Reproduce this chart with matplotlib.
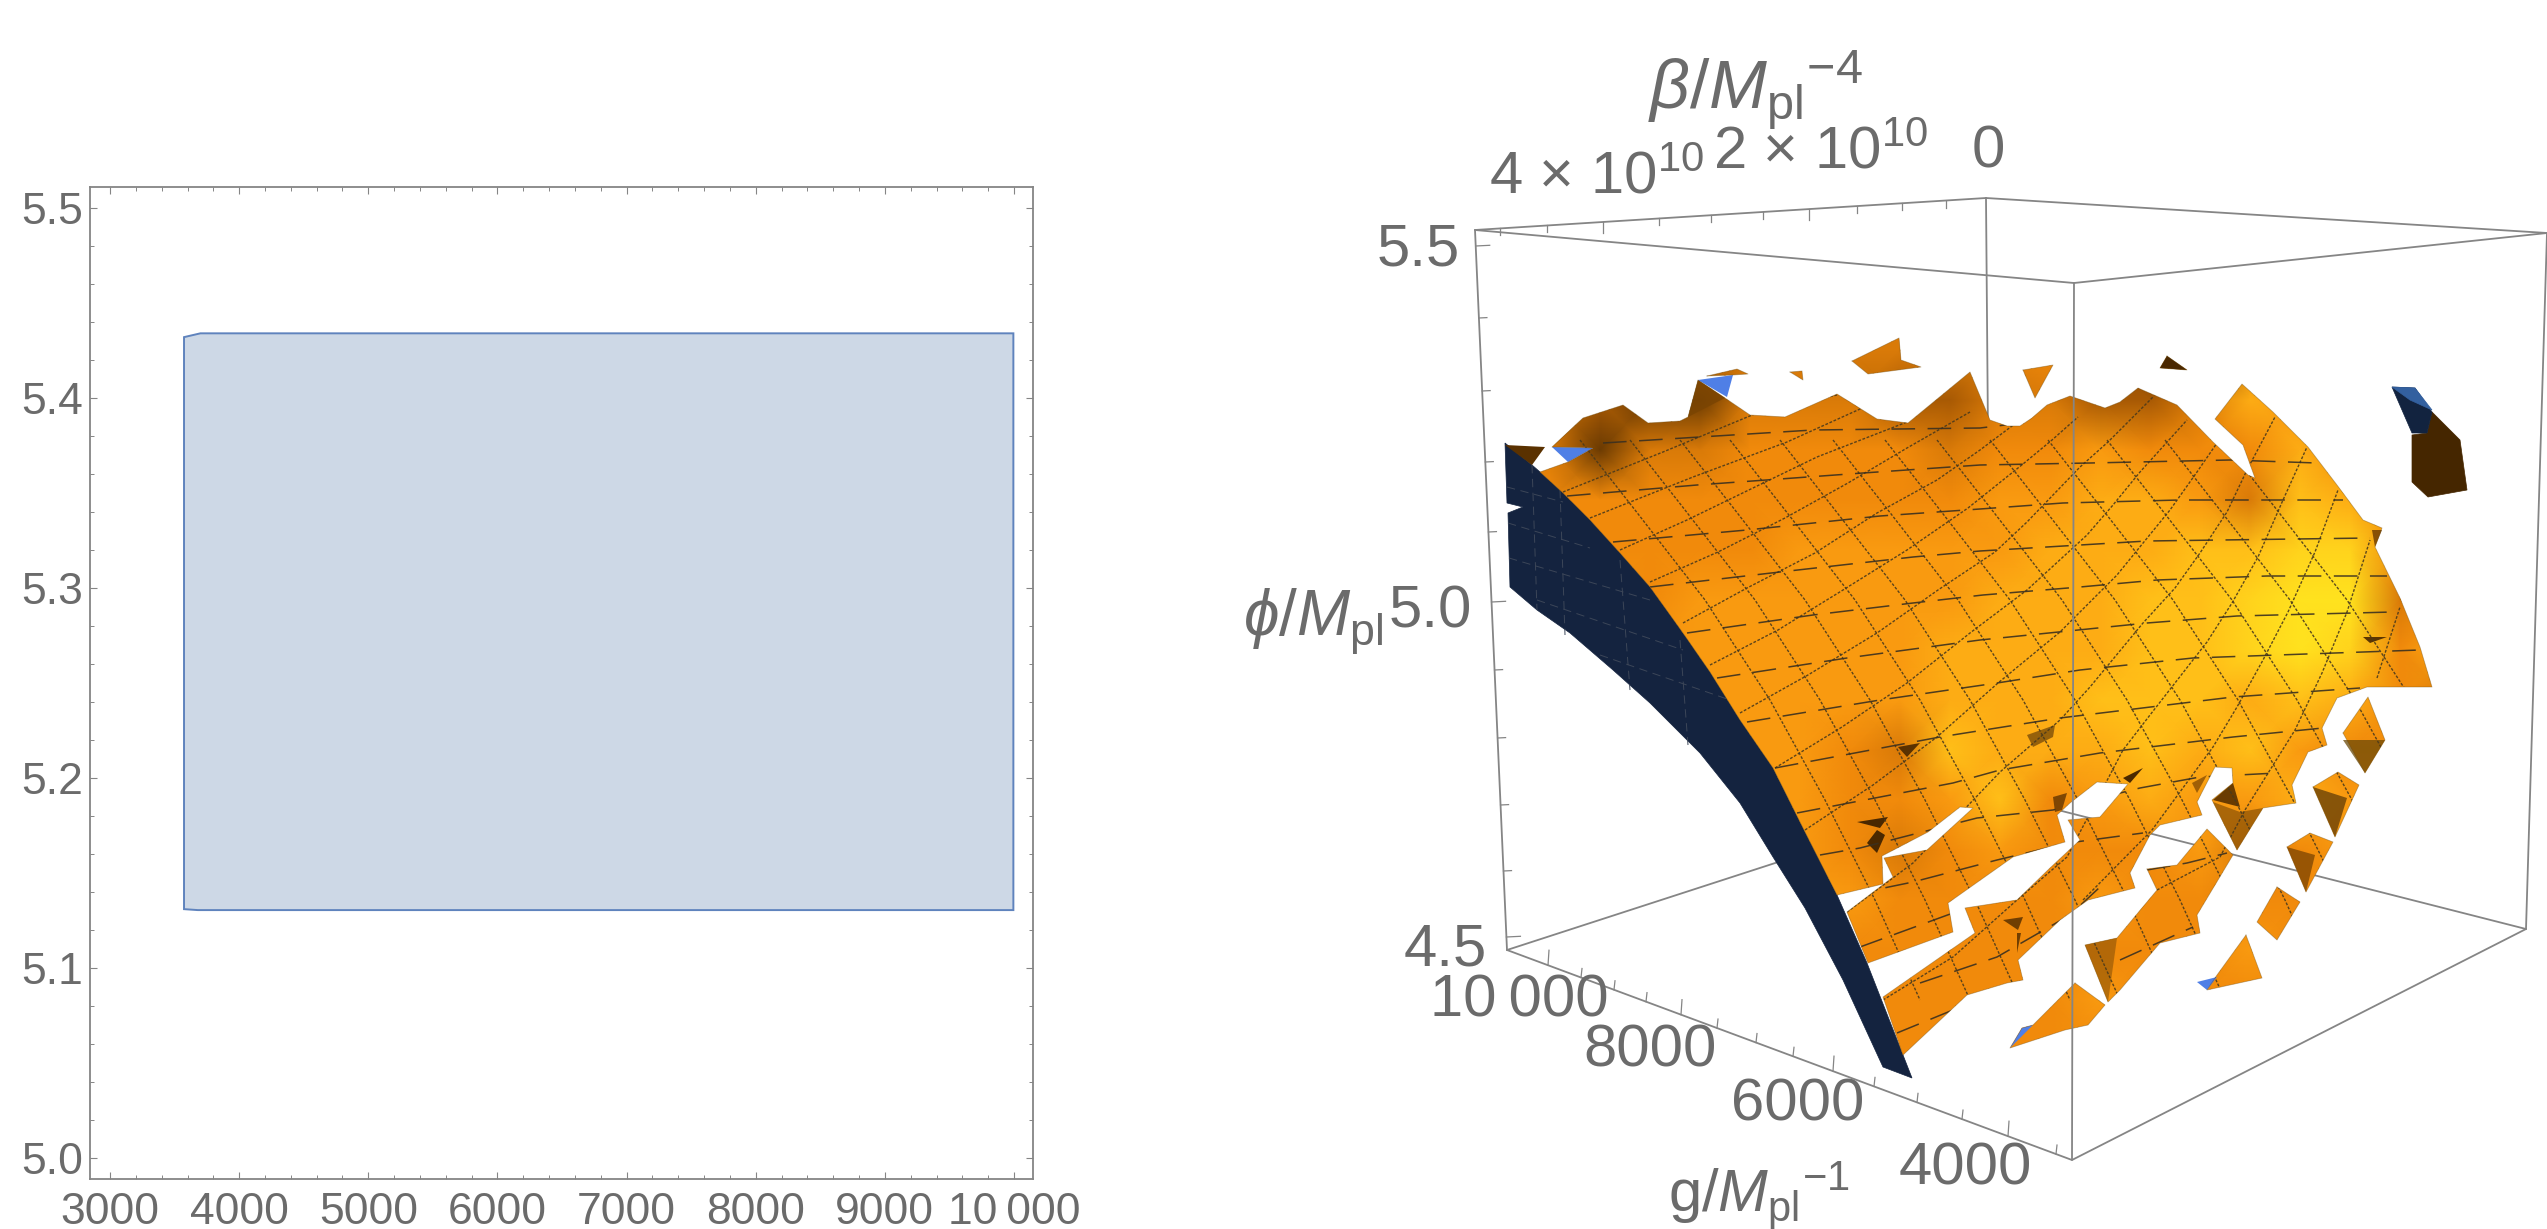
import numpy as np
import matplotlib
matplotlib.use("Agg")
import matplotlib.pyplot as plt
from matplotlib.colors import LinearSegmentedColormap
from matplotlib.path import Path
from matplotlib.ticker import MultipleLocator

plt.rcParams['font.family'] = ['Liberation Sans', 'DejaVu Sans']
plt.rcParams['mathtext.fontset'] = 'custom'
plt.rcParams['mathtext.rm'] = 'Liberation Sans'
plt.rcParams['mathtext.it'] = 'Liberation Sans:italic'
plt.rcParams['mathtext.bf'] = 'Liberation Sans:bold'
plt.rcParams['lines.scale_dashes'] = False

GREY = '#6b6b6b'
FRAME = '#858585'
W, H = 2547, 1229

# left panel: allowed region
region_g = [3573, 3573, 3700, 9995, 9995, 3680]
region_phi = [5.131, 5.432, 5.434, 5.434, 5.1305, 5.1305]
g_ticks = [3000, 4000, 5000, 6000, 7000, 8000, 9000, 10000]
g_tick_labels = ['3000', '4000', '5000', '6000', '7000', '8000', '9000', '10\u2009000']
phi_ticks = [5.0, 5.1, 5.2, 5.3, 5.4, 5.5]

# right panel: box corners as seen in the projected view
top_x = [1475, 1986, 2547, 2074]
top_y = [230, 198, 233, 283]
bot_x = [1507, 1991, 2526, 2072]
bot_y = [950, 793, 929, 1160]

phi_tick_y = [246, 318, 391, 462, 532, 602, 670, 738, 805, 871, 937]
phi_major_y = [246, 602, 937]
g3_tick_x = [1548, 1581, 1614, 1646, 1681, 1717, 1756, 1793, 1833, 1874, 1917, 1962, 2008, 2056]
g3_major_x = [1548, 1681, 1833, 2008]
beta_tick_x = [1500, 1547, 1603, 1659, 1711, 1763, 1809, 1857, 1902, 1946]
beta_major_x = [1603, 1809]

# the sheet, with the slits that break it up towards the bottom
body_x = [1540, 1568, 1593, 1552, 1583, 1623, 1648, 1680, 1688, 1698, 1725, 1750, 1785, 1837, 1877, 1908, 1970,
          1990, 2007, 2020, 2032, 2047, 2070, 2105, 2120, 2138, 2177, 2213, 2248, 2255, 2243, 2215, 2242, 2273,
          2308, 2337, 2363, 2382, 2375, 2400, 2420, 2432, 2367, 2337, 2322, 2327, 2308, 2292, 2296, 2263, 2237,
          2212, 2233, 2232, 2215, 2197, 2202, 2160, 2150, 2130, 2135, 2088, 2060, 2018, 2023, 2007, 1967, 1903,
          1883, 1975, 1965, 2017, 2050, 2080, 2068, 2100, 2128, 2097, 2070, 2057, 2065, 2013, 1948, 1953, 1868,
          1847, 1893, 1884, 1927, 1973, 1960, 1928, 1882, 1883, 1837, 1805, 1773, 1740, 1710, 1683, 1650, 1620,
          1590, 1563]
body_y = [472, 462, 448, 447, 418, 405, 423, 421, 417, 380, 398, 415, 417, 394, 419, 423, 372,
          420, 426, 426, 418, 405, 396, 408, 402, 388, 405, 442, 475, 478, 445, 419, 384, 412,
          447, 485, 520, 528, 547, 598, 647, 687, 687, 698, 728, 745, 752, 785, 803, 808, 850,
          800, 783, 768, 767, 802, 815, 825, 835, 873, 888, 900, 920, 960, 980, 983, 995, 1055,
          997, 933, 908, 900, 868, 840, 820, 817, 784, 782, 803, 815, 842, 857, 903, 932, 963,
          912, 877, 858, 850, 808, 807, 832, 856, 884, 895, 832, 768, 720, 672, 633, 587, 553,
          520, 493]

# detached pieces of the sheet
islands = [
    ([2147, 2177, 2207, 2233, 2197, 2200, 2160, 2120, 2108, 2085, 2117, 2157],
     [869, 865, 829, 855, 915, 933, 943, 990, 1002, 945, 938, 890]),
    ([2075, 2105, 2088, 2065, 2010, 2022, 2033], [983, 1005, 1025, 1030, 1048, 1028, 1025]),
    ([2246, 2262, 2207, 2217], [935, 978, 990, 975]),
    ([2277, 2300, 2277, 2257], [887, 902, 940, 922]),
    ([2287, 2310, 2333, 2306], [847, 833, 842, 892]),
    ([2313, 2338, 2359, 2335], [787, 772, 785, 837]),
    ([2343, 2368, 2385, 2365], [733, 697, 740, 773]),
    ([1707, 1737, 1748, 1733], [376, 369, 374, 375]),
    ([1790, 1802, 1803], [372, 371, 380]),
    ([1852, 1899, 1901, 1921, 1868], [361, 338, 360, 367, 374]),
    ([2023, 2053, 2035], [370, 365, 398]),
    ([2167, 2187, 2160], [356, 370, 368]),
]

# underside strip
navy_x = [1505, 1507, 1523, 1508, 1510, 1537, 1570, 1613, 1650, 1700, 1740, 1773, 1805, 1843, 1883, 1912,
          1903, 1867, 1837, 1805, 1773, 1740, 1710, 1683, 1650, 1620, 1590, 1563, 1540, 1532]
navy_y = [443, 503, 507, 513, 587, 610, 633, 670, 703, 753, 803, 857, 908, 980, 1067, 1078,
          1055, 963, 895, 832, 768, 720, 672, 633, 587, 553, 520, 493, 472, 465]
navy_lines = [([1507, 1563], [487, 502]), ([1508, 1590], [523, 548]), ([1509, 1650], [558, 600]),
              ([1537, 1683], [600, 650]), ([1600, 1730], [655, 700]), ([1532, 1537], [465, 610]),
              ([1560, 1565], [490, 635]), ([1620, 1630], [560, 690]), ([1680, 1688], [640, 745])]

# solid flaps: x, y, colour, alpha
blue_x = [[1552, 1593, 1568], [1698, 1733, 1727], [2010, 2022, 2033], [2197, 2217, 2207]]
blue_y = [[447, 448, 462], [380, 375, 397], [1048, 1028, 1025], [982, 977, 990]]
dark_patches = [
    ([1505, 1545, 1532], [445, 447, 465], '#5a3100', 1.0),
    ([1698, 1725, 1688], [380, 398, 417], '#7a4402', 0.85),
    ([1857, 1888, 1880], [822, 817, 828], '#4a2800', 1.0),
    ([1877, 1885, 1877, 1867], [830, 835, 853, 843], '#4a2800', 1.0),
    ([1898, 1920, 1907], [747, 743, 757], '#4a2800', 0.9),
    ([2003, 2023, 2018], [920, 917, 930], '#5a3100', 0.85),
    ([2017, 2021, 2017], [933, 933, 953], '#5a3100', 0.85),
    ([2123, 2143, 2130], [778, 768, 783], '#4a2800', 1.0),
    ([2213, 2233, 2240], [800, 783, 807], '#5a3100', 0.9),
    ([2213, 2237, 2263, 2240], [802, 850, 808, 812], '#8a5206', 0.7),
    ([2027, 2055, 2053, 2033], [735, 725, 737, 747], '#6b4208', 0.7),
    ([2053, 2067, 2062, 2055], [797, 793, 810, 812], '#6b3a02', 0.85),
    ([2192, 2207, 2197], [783, 775, 793], '#7a4402', 0.7),
    ([2372, 2382, 2375], [530, 530, 547], '#6b3a02', 0.8),
    ([2363, 2387, 2370], [637, 637, 643], '#4a2800', 0.9),
    ([2085, 2117, 2108], [945, 938, 1002], '#8a5206', 0.6),
    ([2287, 2315, 2306], [847, 855, 892], '#7a4402', 0.75),
    ([2313, 2347, 2335], [787, 798, 837], '#6b4208', 0.8),
    ([2343, 2385, 2365], [740, 740, 773], '#6b4a08', 0.75),
    ([2167, 2187, 2160], [356, 370, 368], '#4a2800', 1.0),
]
far_top_x = [2392, 2415, 2432, 2427, 2412]
far_top_y = [387, 388, 412, 433, 433]
far_sheen_x = [2392, 2415, 2432, 2410]
far_sheen_y = [387, 388, 410, 400]
far_side_x = [2432, 2460, 2467, 2428, 2412, 2412, 2427]
far_side_y = [412, 440, 490, 497, 482, 435, 433]

# brightness of the sheet, read row by row
shade_x = [1500, 1550, 1600, 1650, 1700, 1750, 1800, 1850, 1900, 1950, 2000,
           2050, 2100, 2150, 2200, 2250, 2300, 2350, 2400, 2450, 2500]
shade_y = [300, 350, 400, 450, 500, 550, 600, 650, 700, 750, 800, 850, 900, 950, 1000, 1050, 1100]
shade = [
    [3, 3, 3, 3, 3, 3, 3, 3, 3, 3, 3, 4, 2, 1, 1, 3, 3, 3, 3, 3, 3],
    [3, 3, 3, 3, 3, 3, 3, 3, 3, 3, 3, 4, 2, 1, 1, 3, 3, 3, 3, 3, 3],
    [2, 2, 2, 1, 1, 3, 3, 3, 2, 2, 3, 3, 2, 2, 3, 6, 5, 3, 3, 3, 3],
    [3, 3, 1, 3, 3, 4, 4, 4, 4, 3, 4, 4, 5, 4, 4, 4, 6, 4, 3, 3, 3],
    [4, 4, 4, 4, 4, 4, 4, 4, 4, 4, 5, 5, 6, 6, 5, 3, 7, 6, 4, 4, 4],
    [4, 4, 4, 4, 4, 4, 5, 5, 5, 5, 5, 6, 6, 6, 7, 7, 8, 8, 4, 4, 4],
    [5, 5, 5, 4, 5, 5, 5, 5, 5, 5, 6, 6, 6, 7, 7, 8, 9, 9, 3, 4, 4],
    [5, 5, 5, 5, 5, 5, 5, 5, 5, 6, 6, 6, 6, 7, 7, 8, 9, 8, 4, 6, 4],
    [5, 5, 5, 5, 5, 5, 5, 5, 5, 6, 6, 6, 7, 7, 7, 6, 7, 6, 4, 3, 3],
    [5, 5, 5, 5, 5, 5, 5, 4, 3, 7, 6, 6, 6, 7, 6, 7, 5, 4, 4, 4, 4],
    [5, 5, 5, 5, 5, 5, 5, 4, 4, 5, 7, 4, 5, 6, 5, 5, 6, 5, 5, 5, 5],
    [5, 5, 5, 5, 5, 5, 5, 4, 3, 4, 5, 4, 4, 4, 5, 3, 4, 5, 4, 4, 4],
    [5, 5, 5, 5, 5, 5, 5, 5, 4, 4, 4, 4, 5, 4, 4, 4, 4, 4, 4, 4, 4],
    [4, 4, 4, 4, 4, 4, 4, 4, 4, 4, 4, 4, 4, 4, 4, 5, 4, 4, 4, 4, 4],
    [4, 4, 4, 4, 4, 4, 4, 4, 4, 4, 4, 4, 5, 4, 4, 4, 4, 4, 4, 4, 4],
    [4, 4, 4, 4, 4, 4, 4, 4, 4, 4, 4, 4, 4, 4, 4, 4, 4, 4, 4, 4, 4],
    [4, 4, 4, 4, 4, 4, 4, 4, 4, 4, 4, 4, 4, 4, 4, 4, 4, 4, 4, 4, 4],
]
shade_colors = ['#3d2200', '#6b3a02', '#a85a04', '#d97a08', '#f18a0b',
                '#f99a10', '#fdac14', '#ffbf18', '#ffd31c', '#ffe21e']

# mesh, constant phi
mesh_h = [
    ([1603, 1813, 1980, 2030], [443, 430, 428, 422]),
    ([1567, 1697, 1863, 1980, 2090, 2230, 2317], [496, 485, 473, 465, 463, 460, 463]),
    ([1613, 1747, 1880, 1980, 2063, 2180, 2343], [542, 530, 516, 509, 503, 500, 500]),
    ([1650, 1780, 1913, 1980, 2147, 2370], [587, 572, 557, 551, 541, 538]),
    ([1687, 1813, 1913, 1983, 2080, 2157, 2267, 2387], [633, 615, 603, 595, 587, 580, 576, 576]),
    ([1717, 1847, 1980, 2147, 2237, 2393], [678, 658, 640, 623, 616, 612]),
    ([1747, 1880, 1997, 2080, 2193, 2420], [722, 700, 683, 670, 658, 650]),
    ([1775, 1940, 2060, 2233, 2360], [768, 737, 718, 697, 688]),
    ([1797, 1953, 2000, 2100, 2233, 2323], [813, 783, 770, 753, 737, 728]),
    ([1820, 1860, 1977, 2053, 2140, 2200, 2277], [855, 848, 818, 810, 788, 777, 773]),
    ([1850, 1913, 1997, 2068, 2143], [895, 882, 860, 843, 833]),
    ([2147, 2187, 2227], [870, 863, 853]),
    ([1860, 1953], [947, 913]),
    ([1897, 1970], [1033, 1003]),
    ([1920, 1997, 2070, 2100], [983, 957, 915, 887]),
    ([2120, 2193], [960, 927]),
]

# mesh, running down to the right
d1_y = [440, 510, 600, 700, 800, 900, 1000]
d1_x = [
    [1580, 1635, 1705, 1770, 1825, 1875, 1920],
    [1630, 1685, 1755, 1820, 1875, 1925, 1970],
    [1680, 1735, 1805, 1870, 1925, 1975, 2020],
    [1730, 1785, 1855, 1920, 1975, 2025, 2070],
    [1780, 1835, 1905, 1970, 2025, 2075, 2120],
    [1833, 1888, 1958, 2023, 2078, 2128, 2173],
    [1885, 1940, 2010, 2075, 2130, 2180, 2225],
    [1937, 1992, 2062, 2127, 2182, 2232, 2277],
    [1990, 2045, 2115, 2180, 2235, 2285, 2330],
    [2048, 2103, 2173, 2238, 2293, 2343, 2388],
    [2107, 2162, 2232, 2297, 2352, 2402, 2447],
    [2165, 2220, 2290, 2355, 2410, 2460, 2505],
    [2222, 2277, 2347, 2412, 2467, 2517, 2562],
]

# mesh, running up to the right
d2_lines = [
    ([1563, 1663, 1757, 1837], [492, 452, 413, 395]),
    ([1590, 1693, 1787, 1880], [518, 477, 442, 400]),
    ([1620, 1687, 1755, 1817, 1907], [550, 520, 487, 457, 422]),
    ([1650, 1718, 1785, 1848, 1907, 1970], [582, 552, 518, 483, 448, 412]),
    ([1683, 1747, 1815, 1877, 1937, 1980, 2020], [623, 588, 553, 513, 480, 450, 420]),
    ([1710, 1778, 1843, 1907, 1968, 2023, 2052, 2078], [665, 630, 590, 550, 508, 464, 440, 417]),
    ([1740, 1808, 1877, 1938, 1995, 2027, 2080, 2108, 2153], [713, 675, 633, 590, 552, 522, 467, 442, 397]),
    ([1775, 1842, 1907, 1970, 2027, 2087, 2113, 2140, 2187], [768, 727, 683, 633, 590, 535, 505, 472, 420]),
    ([1805, 1873, 1937, 1998, 2060, 2117, 2170, 2197, 2217], [830, 785, 737, 683, 632, 575, 510, 472, 443]),
    ([1847, 1913, 2000, 2060, 2090, 2143, 2175, 2200, 2227, 2247, 2275],
     [912, 863, 772, 720, 687, 623, 588, 553, 512, 470, 417]),
    ([1883, 1953, 2017, 2067, 2123, 2150, 2207, 2232, 2258, 2283, 2307],
     [1000, 957, 900, 857, 750, 715, 642, 603, 557, 500, 447]),
    ([2083, 2152, 2213, 2237, 2263, 2288, 2315, 2338], [900, 830, 747, 707, 660, 612, 552, 490]),
    ([2157, 2220, 2245, 2295, 2322, 2347, 2370], [890, 857, 810, 730, 673, 612, 540]),
    ([2377, 2400], [678, 607]),
]

fig = plt.figure(figsize=(W / 100, H / 100), dpi=100, facecolor='white')

# left panel
L, R, T, B = 90, 1033, 187, 1179
ax = fig.add_axes([L / W, 1 - B / H, (R - L) / W, (B - T) / H])
ax.fill(region_g, region_phi, facecolor='#cdd8e6', edgecolor='#5f83bd', linewidth=1.4, zorder=2)
ax.set_xlim(2845, 10147)
ax.set_ylim(4.989, 5.511)
ax.set_xticks(g_ticks)
ax.set_xticklabels(g_tick_labels)
ax.set_yticks(phi_ticks)
ax.set_yticklabels(['%.1f' % v for v in phi_ticks])
ax.xaxis.set_minor_locator(MultipleLocator(200))
ax.yaxis.set_minor_locator(MultipleLocator(0.02))
ax.tick_params(which='major', direction='in', top=True, right=True, length=5, width=0.8, color=FRAME,
               labelcolor=GREY, labelsize=32)
ax.tick_params(which='minor', direction='in', top=True, right=True, length=2.8, width=0.7, color=FRAME)
ax.tick_params(axis='x', pad=9)
ax.tick_params(axis='y', pad=5)
for s in ax.spines.values():
    s.set_color(FRAME)
    s.set_linewidth(1.3)

# right panel, drawn in its projected coordinates
ax3 = fig.add_axes([0, 0, 1, 1])
ax3.set_xlim(0, W)
ax3.set_ylim(H, 0)
ax3.axis('off')
ax3.patch.set_alpha(0)


def edge(xs, ys, z=1):
    ax3.plot(xs, ys, color=FRAME, lw=1.3, zorder=z, solid_capstyle='round')


for i in range(4):
    j = (i + 1) % 4
    edge([top_x[i], top_x[j]], [top_y[i], top_y[j]])
edge([bot_x[0], bot_x[3], bot_x[2]], [bot_y[0], bot_y[3], bot_y[2]])
edge([bot_x[0], bot_x[1], bot_x[2]], [bot_y[0], bot_y[1], bot_y[2]])
edge([top_x[0], bot_x[0]], [top_y[0], bot_y[0]])
edge([top_x[1], bot_x[1]], [top_y[1], bot_y[1]])
edge([top_x[2], bot_x[2]], [top_y[2], bot_y[2]])

for y in phi_tick_y:
    x = np.interp(y, [top_y[0], bot_y[0]], [top_x[0], bot_x[0]])
    n = 14 if y in phi_major_y else 8
    ax3.plot([x, x + n], [y, y - n * 0.05], color=FRAME, lw=0.9, zorder=1)
for x in g3_tick_x:
    y = np.interp(x, [bot_x[0], bot_x[3]], [bot_y[0], bot_y[3]])
    n = 15 if x in g3_major_x else 9
    ax3.plot([x, x + 1], [y, y - n], color=FRAME, lw=0.9, zorder=1)
for x in beta_tick_x:
    y = np.interp(x, [top_x[0], top_x[1]], [top_y[0], top_y[1]])
    n = 11 if x in beta_major_x else 7
    ax3.plot([x, x], [y, y + n], color=FRAME, lw=0.9, zorder=1)

ax3.fill(navy_x, navy_y, color='#14233f', zorder=2, lw=0.5)
for xs, ys in navy_lines:
    ax3.plot(xs, ys, color='#3c4658', lw=0.7, ls=(0, (6, 4)), zorder=2.1)

ax3.fill(far_side_x, far_side_y, color='#452600', zorder=2, lw=0.5)
ax3.fill(far_top_x, far_top_y, color='#12233f', zorder=2.1, lw=0.5)
ax3.fill(far_sheen_x, far_sheen_y, color='#33609f', zorder=2.2, lw=0.5)

sheet_polys = [(body_x, body_y)] + islands
sheet = Path.make_compound_path(*[Path(np.column_stack([xs + xs[:1], ys + ys[:1]]), closed=True)
                                  for xs, ys in sheet_polys])
cmap = LinearSegmentedColormap.from_list('sheet', shade_colors)
mesh = ax3.pcolormesh(shade_x, shade_y, np.array(shade), cmap=cmap, vmin=0, vmax=9, shading='gouraud', zorder=3)
mesh.set_clip_path(sheet, ax3.transData)
ax3.set_xlim(0, W)
ax3.set_ylim(H, 0)

for xs, ys, c, a in dark_patches:
    ax3.fill(xs, ys, color=c, alpha=a, lw=0, zorder=4)
for xs, ys in zip(blue_x, blue_y):
    ax3.fill(xs, ys, color='#4f7fe6', lw=0, zorder=4.2)

for xs in d1_x:
    ln, = ax3.plot(xs, d1_y, color='#4a3a1c', lw=1.0, ls=(0, (2.0, 1.2)), alpha=0.9, zorder=5)
    ln.set_clip_path(sheet, ax3.transData)
for xs, ys in d2_lines:
    ln, = ax3.plot(xs, ys, color='#4a3a1c', lw=1.0, ls=(0, (2.0, 1.2)), alpha=0.9, zorder=5)
    ln.set_clip_path(sheet, ax3.transData)
for xs, ys in mesh_h:
    ln, = ax3.plot(xs, ys, color='#3a3020', lw=1.1, ls=(0, (17, 9)), alpha=0.9, zorder=5)
    ln.set_clip_path(sheet, ax3.transData)

# sheet rim, then the front edge of the box over everything
for xs, ys in sheet_polys:
    ax3.plot(xs + xs[:1], ys + ys[:1], color='#6a4a10', lw=0.6, alpha=0.4, zorder=5.2)
edge([top_x[3], bot_x[3]], [top_y[3], bot_y[3]], z=6)

# right panel labels
label = dict(color=GREY, fontsize=43, ha='center', va='center')
ax3.text(1755, 90, r'$\beta/M_{\mathrm{pl}}{}^{-4}$', color=GREY, fontsize=50, ha='center', va='center')
ax3.text(1597, 178, '4 × 10$^{10}$', **label)
ax3.text(1821, 153, '2 × 10$^{10}$', **label)
ax3.text(1988, 152, '0', **label)
ax3.text(1313, 622, r'$\phi/M_{\mathrm{pl}}$', color=GREY, fontsize=46, ha='center', va='center')
ax3.text(1430, 612, '5.0', **label)
ax3.text(1418, 250, '5.5', **label)
ax3.text(1445, 950, '4.5', **label)
ax3.text(1519, 1001, '10\u2009000', **label)
ax3.text(1650, 1051, '8000', **label)
ax3.text(1798, 1105, '6000', **label)
ax3.text(1965, 1169, '4000', **label)
ax3.text(1759, 1196, r'$\mathrm{g}/M_{\mathrm{pl}}{}^{-1}$', **label)

fig.savefig('out.png', dpi=100, facecolor='white')
